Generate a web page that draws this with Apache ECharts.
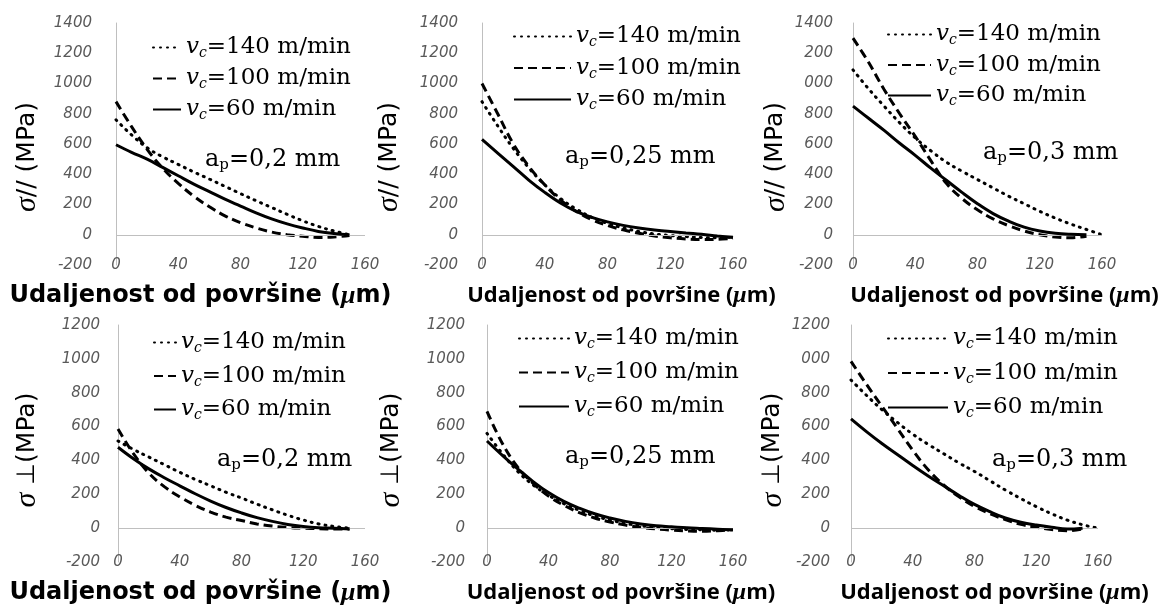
<!DOCTYPE html>
<html><head><meta charset="utf-8">
<script src="https://cdn.jsdelivr.net/npm/echarts@6/dist/echarts.min.js"></script>
<style>html,body{margin:0;padding:0;background:#fff}#c{width:1163px;height:607px}</style>
</head><body><div id="c"></div>
<script>
// ---------- data ----------
const speeds = ['140', '100', '60'];            // v_c (m/min): dotted, dashed, solid
const apValues = ['0,2', '0,25', '0,3', '0,2', '0,25', '0,3'];
const xTicks = ['0', '40', '80', '120', '160'];
const yTicksTop = ['-200', '0', '200', '400', '600', '800', '1000', '1200', '1400'];
const yTicksTop3 = ['-200', '0', '200', '400', '600', '800', '000', '200', '1400'];
const yTicksBot = ['-200', '0', '200', '400', '600', '800', '1000', '1200'];
const yTicksBot3 = ['-200', '0', '200', '400', '600', '800', '000', '1200'];

const x150 = [0, 10, 20, 30, 40, 50, 60, 70, 80, 90, 100, 110, 120, 130, 140, 150];
const x160 = [0, 10, 20, 30, 40, 50, 60, 70, 80, 90, 100, 110, 120, 130, 140, 150, 160];

// sigma //, ap = 0,2
const par02_140 = [760, 660, 575, 515, 465, 415, 368, 320, 272, 225, 180, 135, 92, 55, 25, 0];
const par02_100 = [880, 715, 565, 440, 340, 255, 185, 125, 80, 45, 18, 0, -10, -18, -15, -5];
const par02_60  = [595, 545, 500, 445, 390, 335, 285, 235, 190, 145, 105, 72, 45, 22, 8, 0];
// sigma //, ap = 0,25
const par025_140 = [880, 720, 570, 440, 330, 240, 170, 115, 75, 45, 22, 5, -5, -12, -18, -20, -15];
const par025_100 = [1000, 800, 600, 450, 330, 230, 155, 100, 62, 32, 10, -8, -20, -28, -32, -30, -25];
const par025_60  = [630, 540, 450, 360, 280, 210, 155, 115, 85, 62, 45, 32, 22, 12, 3, -8, -18];
// sigma //, ap = 0,3
const par03_140 = [1090, 965, 850, 740, 640, 555, 480, 420, 365, 310, 255, 205, 155, 110, 70, 35, 0];
const par03_100 = [1300, 1140, 960, 800, 650, 490, 340, 240, 165, 105, 60, 25, 0, -15, -20, -10];
const par03_60  = [850, 770, 690, 605, 525, 440, 360, 280, 205, 140, 90, 50, 25, 10, 3, 0];
// sigma perpendicular, ap = 0,2
const per02_140 = [515, 465, 420, 375, 330, 288, 250, 212, 178, 142, 108, 76, 48, 25, 10, 0];
const per02_100 = [585, 440, 325, 245, 185, 135, 95, 65, 45, 25, 12, 4, 0, -3, -5, -5];
const per02_60  = [478, 410, 350, 298, 250, 203, 160, 122, 90, 62, 40, 22, 10, 3, 0, -5];
// sigma perpendicular, ap = 0,25
const per025_140 = [560, 440, 335, 255, 195, 145, 105, 72, 48, 28, 14, 4, -3, -8, -10, -12, -10];
const per025_100 = [690, 500, 360, 265, 190, 135, 92, 60, 36, 18, 5, -5, -12, -16, -18, -15, -10];
const per025_60  = [515, 430, 350, 275, 210, 158, 118, 85, 60, 40, 25, 14, 8, 2, -2, -6, -10];
// sigma perpendicular, ap = 0,3
const per03_140 = [875, 785, 700, 625, 555, 495, 440, 385, 335, 280, 225, 175, 127, 85, 48, 20, 0];
const per03_100 = [985, 850, 720, 590, 460, 345, 255, 185, 128, 85, 50, 22, 5, -8, -15, -5];
const per03_60  = [645, 570, 500, 435, 370, 308, 250, 193, 140, 97, 60, 35, 18, 5, -5, 0];

const panelData = [
  {xs: [x150, x150, x150], ys: [par02_140, par02_100, par02_60], yTicks: yTicksTop, ymax: 1400, perp: false},
  {xs: [x160, x160, x160], ys: [par025_140, par025_100, par025_60], yTicks: yTicksTop, ymax: 1400, perp: false},
  {xs: [x160, x150, x150], ys: [par03_140, par03_100, par03_60], yTicks: yTicksTop3, ymax: 1400, perp: false},
  {xs: [x150, x150, x150], ys: [per02_140, per02_100, per02_60], yTicks: yTicksBot, ymax: 1200, perp: true},
  {xs: [x160, x160, x160], ys: [per025_140, per025_100, per025_60], yTicks: yTicksBot, ymax: 1200, perp: true},
  {xs: [x160, x150, x150], ys: [per03_140, per03_100, per03_60], yTicks: yTicksBot3, ymax: 1200, perp: true}
];

// ---------- layout (positions / styles) ----------
const layout = [
  {left:116, width:249, top:23,  height:242, lm:24, yGap:74, yShift:26, xPadL:0,  xPadR:80, wide:true,  legL:152, legW:28, legT:36,  legG:6.5, apL:205, apT:147},
  {left:482, width:251, top:23,  height:242, lm:24, yGap:78, yShift:26, xPadL:28, xPadR:0,  wide:false, legL:513, legW:57, legT:25,  legG:7,   apL:565, apT:144},
  {left:853, width:249, top:23,  height:242, lm:20, yGap:62, yShift:26, xPadL:54, xPadR:0,  wide:false, legL:887, legW:43, legT:23,  legG:6,   apL:983, apT:140},
  {left:118, width:247, top:325, height:237, lm:18, yGap:76, yShift:13, xPadL:0,  xPadR:82, wide:true,  legL:153, legW:22, legT:331, legG:9,   apL:217, apT:447},
  {left:487, width:246, top:325, height:237, lm:22, yGap:81, yShift:13, xPadL:22, xPadR:0,  wide:false, legL:518, legW:50, legT:327, legG:9.5, apL:565, apT:444},
  {left:851, width:247, top:325, height:237, lm:21, yGap:62, yShift:13, xPadL:40, xPadR:0,  wide:false, legL:887, legW:60, legT:327, legG:10,  apL:992, apT:447}
];

const lineTypes = [
  {type: [1, 6], cap: 'round', width: 3},
  {type: [9, 5], cap: 'butt', width: 3},
  {type: 'solid', cap: 'butt', width: 3}
];
const tickFont = {fontFamily: 'DejaVu Sans', fontStyle: 'italic', fontSize: 15, color: '#595959'};
const serif = 'DejaVu Serif';
const legendRich = {
  v: {fontFamily: serif, fontStyle: 'italic', fontWeight: 'normal', fontSize: 23, lineHeight: 26, color: '#000'},
  c: {fontFamily: serif, fontStyle: 'italic', fontWeight: 'normal', fontSize: 14, lineHeight: 12, verticalAlign: 'bottom', color: '#000'},
  t: {fontFamily: serif, fontWeight: 'normal', fontSize: 23, lineHeight: 26, color: '#000'}
};
const apRich = {
  a: {fontFamily: serif, fontWeight: 'normal', fontSize: 24, lineHeight: 26, color: '#000'},
  p: {fontFamily: serif, fontWeight: 'normal', fontSize: 15, lineHeight: 12, verticalAlign: 'bottom', color: '#000'},
  t: {fontFamily: serif, fontWeight: 'normal', fontSize: 24, lineHeight: 26, color: '#000'}
};

const grid = [], xAxis = [], yAxis = [], series = [], legend = [], title = [];
panelData.forEach((pd, i) => {
  const L = layout[i];
  grid.push({left: L.left, width: L.width, top: L.top, height: L.height, containLabel: false});
  const xFont = L.wide ? 'DejaVu Sans' : 'Open Sans';
  const xSize = L.wide ? 24 : 22;
  xAxis.push({
    gridIndex: i, type: 'value', min: 0, max: 160, interval: 40,
    axisLine: {show: false, onZero: false}, axisTick: {show: false}, splitLine: {show: false},
    axisLabel: Object.assign({formatter: v => xTicks[Math.round(v / 40)], margin: 0, verticalAlign: 'middle'}, tickFont),
    name: '{b|Udaljenost od površine (}{m|μ}{b|m)}',
    nameLocation: 'middle', nameGap: 18,
    nameTextStyle: {
      padding: [0, L.xPadR, 0, L.xPadL],
      rich: {
        b: {fontFamily: xFont, fontWeight: 'bold', fontSize: xSize, lineHeight: 26, color: '#000'},
        m: {fontFamily: 'Liberation Serif', fontStyle: 'italic', fontWeight: 'bold', fontSize: xSize + 2, lineHeight: 26, color: '#000'}
      }
    }
  });
  yAxis.push({
    gridIndex: i, type: 'value', min: -200, max: pd.ymax, interval: 200,
    axisLine: {show: true, onZero: false, lineStyle: {color: '#bfbfbf', width: 1}},
    axisTick: {show: false}, splitLine: {show: false},
    axisLabel: Object.assign({formatter: v => pd.yTicks[Math.round((v + 200) / 200)], margin: L.lm}, tickFont),
    name: pd.perp ? '{s|σ}{t| ⊥(MPa)}' : '{s|σ}{t|// (MPa)}',
    nameLocation: 'middle', nameRotate: 90, nameGap: L.yGap,
    nameTextStyle: {
      padding: [0, L.yShift, 0, 0],
      rich: {
        s: {fontFamily: 'Liberation Serif', fontStyle: 'italic', fontSize: 30, lineHeight: 30, color: '#000'},
        t: {fontFamily: 'DejaVu Sans', fontSize: 25, lineHeight: 30, color: '#000'}
      }
    }
  });
  speeds.forEach((sp, k) => {
    const s = {
      type: 'line', name: sp, xAxisIndex: i, yAxisIndex: i,
      data: pd.xs[k].map((x, j) => [x, pd.ys[k][j]]),
      symbol: 'none', smooth: 0.4, z: 3 + k,
      lineStyle: {color: '#000', width: lineTypes[k].width, type: lineTypes[k].type, cap: lineTypes[k].cap},
      itemStyle: {color: '#000'}
    };
    if (k === 0) {
      s.markLine = {
        silent: true, symbol: ['none', 'none'], label: {show: false}, animation: false,
        lineStyle: {color: '#bfbfbf', width: 1, type: 'solid'},
        data: [{yAxis: 0}]
      };
    }
    series.push(s);
  });
  legend.push({
    data: speeds, orient: 'vertical', left: L.legL, top: L.legT, padding: 0,
    itemWidth: L.legW, itemHeight: 14, itemGap: L.legG,
    itemStyle: {opacity: 0},
    formatter: name => `{v|v}{c|c}{t|=${name} m/min}`,
    textStyle: {rich: legendRich}, selectedMode: false
  });
  title.push({
    text: `{a|a}{p|p}{t|=${apValues[i]} mm}`, left: L.apL, top: L.apT, padding: 0,
    textStyle: {fontWeight: 'normal', rich: apRich}
  });
});

const chart = echarts.init(document.getElementById('c'), null, {renderer: 'canvas'});
chart.setOption({
  animation: false, backgroundColor: '#fff',
  grid, xAxis, yAxis, series, legend, title
});
</script>
</body></html>
